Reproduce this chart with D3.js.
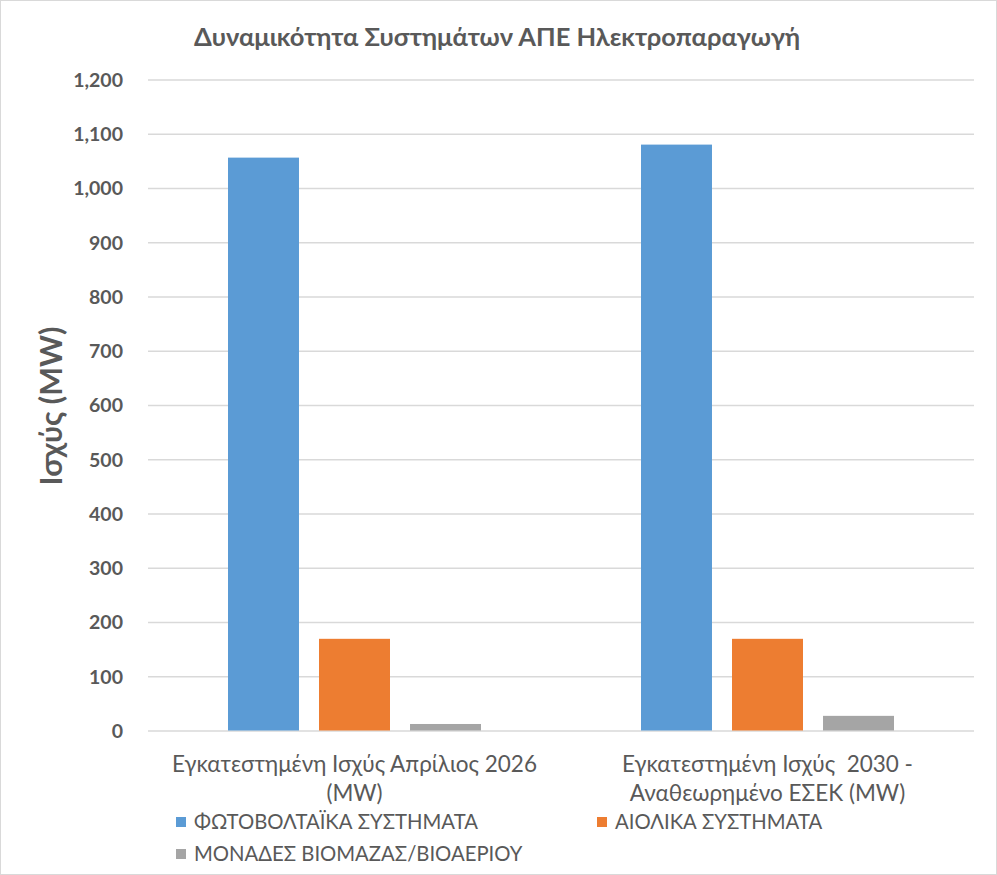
<!DOCTYPE html>
<html>
<head>
<meta charset="utf-8">
<script src="https://cdn.jsdelivr.net/npm/d3@7"></script>
<style>
  body { margin: 0; background: #fff; }
  svg text { font-family: Lato, "Open Sans", "DejaVu Sans Condensed", sans-serif; fill: #595959; white-space: pre; }
</style>
</head>
<body>
<div id="chart"></div>
<script>
// chart data
const categories = [
  ["Εγκατεστημένη Ισχύς Απρίλιος 2026", "(MW)"],
  ["Εγκατεστημένη Ισχύς  2030 -", "Αναθεωρημένο ΕΣΕΚ (MW)"]
];
const seriesNames = ["ΦΩΤΟΒΟΛΤΑΪΚΑ ΣΥΣΤΗΜΑΤΑ", "ΑΙΟΛΙΚΑ ΣΥΣΤΗΜΑΤΑ", "ΜΟΝΑΔΕΣ ΒΙΟΜΑΖΑΣ/ΒΙΟΑΕΡΙΟΥ"];
const photovoltaic = [1056, 1080];
const wind = [169, 169];
const biomass = [12, 27];
const yTicks = [0, 100, 200, 300, 400, 500, 600, 700, 800, 900, 1000, 1100, 1200];
const colors = ["#5b9bd5", "#ed7d31", "#a5a5a5"];

const seriesValues = [photovoltaic, wind, biomass];

const width = 997, height = 875;
const margin = { top: 79.5, right: 23, bottom: 144.5, left: 148 };

const svg = d3.select("#chart")
  .append("svg")
  .attr("width", width)
  .attr("height", height);

// outer border
svg.append("rect")
  .attr("x", 0.5).attr("y", 0.5)
  .attr("width", width - 1).attr("height", height - 1)
  .attr("fill", "#fff")
  .attr("stroke", "#d9d9d9");

const catKeys = categories.map(function(d, i) { return i; });

const x0 = d3.scaleBand()
  .domain(catKeys)
  .range([margin.left, width - margin.right])
  .paddingInner(0.3874)
  .paddingOuter(0.1937);

const x1 = d3.scaleBand()
  .domain(seriesNames)
  .range([0, x0.bandwidth()])
  .paddingInner(0.22);

const y = d3.scaleLinear()
  .domain([0, 1200])
  .range([height - margin.bottom, margin.top]);

// gridlines
const grid = svg.append("g")
  .attr("transform", `translate(${margin.left},0)`)
  .call(d3.axisLeft(y).tickValues(yTicks).tickSize(-(width - margin.right - margin.left)).tickFormat(""));
grid.select(".domain").remove();
grid.selectAll("line").attr("stroke", "#d9d9d9").attr("stroke-width", 1.3);

// y axis labels
const yAxis = svg.append("g")
  .attr("transform", `translate(${margin.left - 22},0)`)
  .call(d3.axisLeft(y).tickValues(yTicks).tickSize(0).tickFormat(d3.format(",")));
yAxis.select(".domain").remove();
yAxis.selectAll("text")
  .attr("font-size", 19.5)
  .attr("font-weight", "bold")
  .attr("dy", "0.35em");

// bars
const rows = [];
catKeys.forEach(function(c) {
  seriesNames.forEach(function(s, si) {
    rows.push({ cat: c, series: s, value: seriesValues[si][c], color: colors[si] });
  });
});

svg.append("g")
  .selectAll("rect")
  .data(rows)
  .join("rect")
  .attr("x", function(d) { return x0(d.cat) + x1(d.series); })
  .attr("y", function(d) { return y(d.value); })
  .attr("width", x1.bandwidth())
  .attr("height", function(d) { return y(0) - y(d.value); })
  .attr("fill", function(d) { return d.color; });

// category labels
const catLabels = svg.append("g")
  .selectAll("text")
  .data(categories)
  .join("text")
  .attr("text-anchor", "middle")
  .attr("font-size", 22.5)
  .attr("transform", function(d, i) { return `translate(${x0(i) + x0.bandwidth() / 2},772)`; });
catLabels.selectAll("tspan")
  .data(function(d) { return d; })
  .join("tspan")
  .attr("x", 0)
  .attr("dy", function(d, i) { return i === 0 ? 0 : 29; })
  .text(function(d) { return d; });

// title
svg.append("text")
  .attr("x", 497)
  .attr("y", 46)
  .attr("text-anchor", "middle")
  .attr("font-size", 25.5)
  .attr("font-weight", "bold")
  .text("Δυναμικότητα Συστημάτων ΑΠΕ Ηλεκτροπαραγωγή");

// y axis title
svg.append("text")
  .attr("transform", "translate(62,406) rotate(-90)")
  .attr("text-anchor", "middle")
  .attr("font-size", 30.5)
  .attr("font-weight", "bold")
  .text("Ισχύς (MW)");

// legend
const legendPos = [[176, 822], [597, 822], [176, 854]];
const legend = svg.append("g")
  .selectAll("g")
  .data(seriesNames)
  .join("g")
  .attr("transform", function(d, i) { return `translate(${legendPos[i][0]},${legendPos[i][1]})`; });
legend.append("rect")
  .attr("x", 0).attr("y", -5)
  .attr("width", 10).attr("height", 10)
  .attr("fill", function(d, i) { return colors[i]; });
legend.append("text")
  .attr("x", 18)
  .attr("dy", "0.35em")
  .attr("font-size", 20.3)
  .text(function(d) { return d; });
</script>
</body>
</html>
